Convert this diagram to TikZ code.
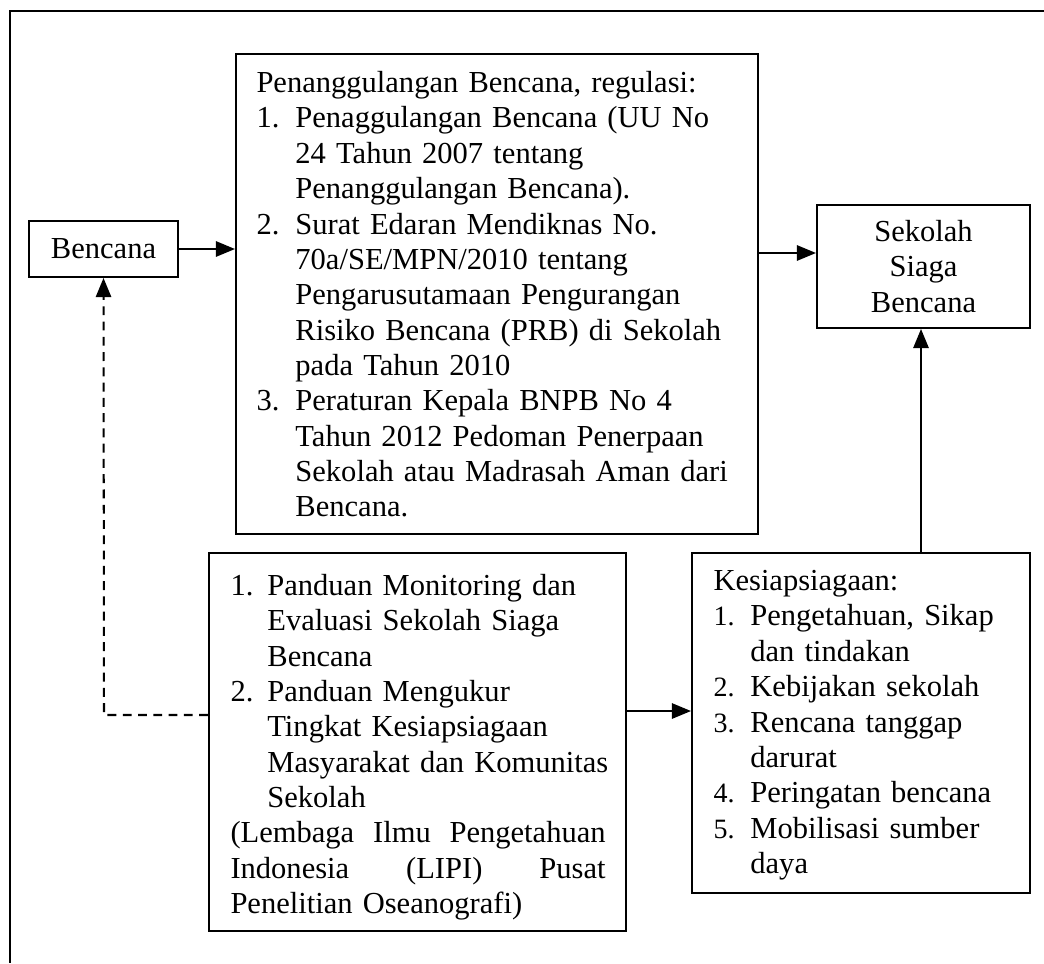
\documentclass[tikz,border=0pt]{standalone}
\usepackage{fontspec}
\setmainfont{Liberation Serif}
\usetikzlibrary{arrows.meta}
\newcommand\itm[3]{\par\noindent\hangindent=#1\hangafter=1\relax\makebox[#1][l]{#2}#3\par}
\newcommand\knum[1]{{\fontsize{11}{13.9}\selectfont #1}}
\tikzset{
  basefont/.style={font=\fontsize{12}{13.9}\selectfont},
  box/.style={draw, line width=0.8pt, inner sep=0pt, basefont},
  txt/.style={anchor=north west, inner sep=0pt, align=left, basefont},
  arr/.style={line width=0.8pt, -{Triangle[length=7.5pt,width=6pt]}},
  dasharr/.style={arr, dash pattern=on 3.5pt off 2.5pt},
}
\begin{document}
\begin{tikzpicture}[x=0.393pt,y=-0.393pt]
\useasboundingbox (0,0) rectangle (1044,963);
% outer frame (continues beyond the page on the right and bottom)
\draw[line width=0.6pt] (1044,11) -- (10,11) -- (10,963);

% boxes
\node[box, minimum width=58.6pt, minimum height=22pt] (ben) at (103.5,249) {Bencana};
\node[box, anchor=north west, minimum width=205.1pt, minimum height=188.6pt] (reg) at (235,53) {};
\node[box, align=center, minimum width=83.7pt, minimum height=48.3pt] (sek) at (923.5,266.5) {Sekolah\\Siaga\\Bencana};
\node[box, anchor=north west, minimum width=163.9pt, minimum height=148.6pt] (pand) at (208,552) {};
\node[box, anchor=north west, minimum width=132.8pt, minimum height=133.6pt] (kes) at (691,552) {};

% texts
\node[txt, text width=192pt] (regtxt) at (256,61.5) {%
\noindent\rule{0pt}{12pt}Penanggulangan Bencana, regulasi:\par
\itm{15.3pt}{1.}{Penaggulangan Bencana (UU No\newline 24 Tahun 2007 tentang\newline Penanggulangan Bencana).}
\itm{15.3pt}{2.}{Surat Edaran Mendiknas No.\newline 70a/SE/MPN/2010 tentang\newline Pengarusutamaan Pengurangan\newline Risiko Bencana (PRB) di Sekolah\newline pada Tahun 2010}
\itm{15.3pt}{3.}{Peraturan Kepala BNPB No 4\newline Tahun 2012 Pedoman Penerpaan\newline Sekolah atau Madrasah Aman dari\newline Bencana.}};

\node[txt, text width=152pt] (pandtxt) at (230,559.5) {%
\itm{14.5pt}{\rule{0pt}{12pt}1.}{Panduan Monitoring dan\newline Evaluasi Sekolah Siaga\newline Bencana}
\itm{14.5pt}{2.}{Panduan Mengukur\newline Tingkat Kesiapsiagaan\newline Masyarakat dan Komunitas\newline Sekolah}
\noindent\hbox to 147.4pt{(Lembaga\hfill Ilmu\hfill Pengetahuan}\par
\noindent\hbox to 147.4pt{Indonesia\hfill (LIPI)\hfill Pusat}\par
\noindent Penelitian Oseanografi)\par};

\node[txt, text width=122pt] (kestxt) at (713,559.5) {%
\noindent\rule{0pt}{12pt}Kesiapsiagaan:\par
\itm{14.5pt}{\knum{1.}}{Pengetahuan, Sikap\newline dan tindakan}
\itm{14.5pt}{\knum{2.}}{Kebijakan sekolah}
\itm{14.5pt}{\knum{3.}}{Rencana tanggap\newline darurat}
\itm{14.5pt}{\knum{4.}}{Peringatan bencana}
\itm{14.5pt}{\knum{5.}}{Mobilisasi sumber\newline daya}};

% connectors
\coordinate (a2) at (757,253);
\coordinate (a3) at (650,711);
\coordinate (a4) at (921,450);
\coordinate (a5) at (104,715);
\draw[arr] (ben.east) -- (ben.east -| reg.west);
\draw[arr] (a2 -| reg.east) -- (a2 -| sek.west);
\draw[arr] (a3 -| pand.east) -- (a3 -| kes.west);
\draw[arr] (a4 |- kes.north) -- (a4 |- sek.south);
\draw[dasharr] (a5 -| pand.west) -- (a5) -- (ben.south);
\end{tikzpicture}
\end{document}
